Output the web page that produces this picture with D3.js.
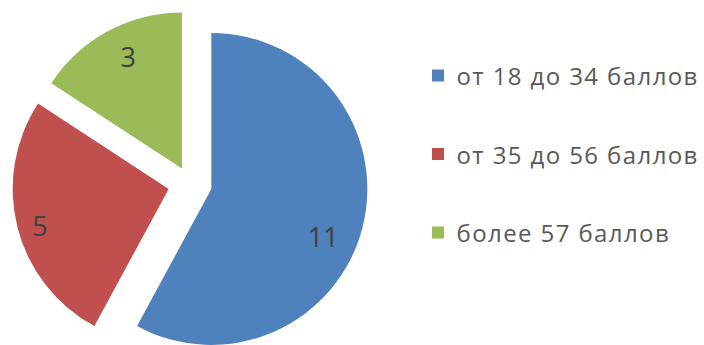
<!DOCTYPE html>
<html>
<head>
<meta charset="utf-8">
<script src="https://cdn.jsdelivr.net/npm/d3@7"></script>
<style>
  body { margin: 0; background: #fff; }
  svg { display: block; }
</style>
</head>
<body>
<div id="chart"></div>
<script>
  var categories = ['от 18 до 34 баллов', 'от 35 до 56 баллов', 'более 57 баллов'];
  var values = [11, 5, 3];
  var colors = ['#4f81bd', '#c0504d', '#9bbb59'];

  var width = 704, height = 345;
  var cx = 190, cy = 183.5, r = 156;
  // per-slice explosion distance and label placement (style only)
  var explode = [22, 22, 17];
  var labelK = [0.78, 0.86, 0.79];
  var labelNudge = [9, -2, 2.6]; // degrees

  var svg = d3.select('#chart').append('svg').attr('width', width).attr('height', height);
  var g = svg.append('g').attr('transform', 'translate(' + cx + ',' + cy + ')');

  var pie = d3.pie().sort(null).value(function (d) { return d; });
  var arcs = pie(values);
  var arc = d3.arc().innerRadius(0).outerRadius(r);

  function polar(a, dist) { return [Math.sin(a) * dist, -Math.cos(a) * dist]; }
  function mid(d) { return (d.startAngle + d.endAngle) / 2; }

  var slices = g.selectAll('g.slice').data(arcs).enter().append('g')
    .attr('class', 'slice')
    .attr('transform', function (d, i) { return 'translate(' + polar(mid(d), explode[i]) + ')'; });

  slices.append('path').attr('d', arc).attr('fill', function (d, i) { return colors[i]; });

  slices.append('text')
    .attr('transform', function (d, i) {
      return 'translate(' + polar(mid(d) + labelNudge[i] * Math.PI / 180, r * labelK[i]) + ')';
    })
    .attr('text-anchor', 'middle').attr('dy', '0.36em')
    .attr('font-family', 'Open Sans, sans-serif').attr('font-size', 27)
    .attr('fill', '#404040')
    .text(function (d) { return d.data; });

  // Legend
  var legendY = d3.scalePoint().domain(categories).range([76.5, 233.5]);
  var items = svg.append('g').selectAll('g').data(categories).enter().append('g')
    .attr('transform', function (d) { return 'translate(432,' + legendY(d) + ')'; });
  items.append('rect').attr('x', 0).attr('y', -7).attr('width', 12).attr('height', 12)
    .attr('fill', function (d, i) { return colors[i]; });
  items.append('text').attr('x', 24.5).attr('dy', '0.36em')
    .attr('font-family', 'Open Sans, sans-serif').attr('font-size', 24)
    .attr('letter-spacing', 1.4)
    .attr('fill', '#595959')
    .text(function (d) { return d; });
</script>
</body>
</html>
